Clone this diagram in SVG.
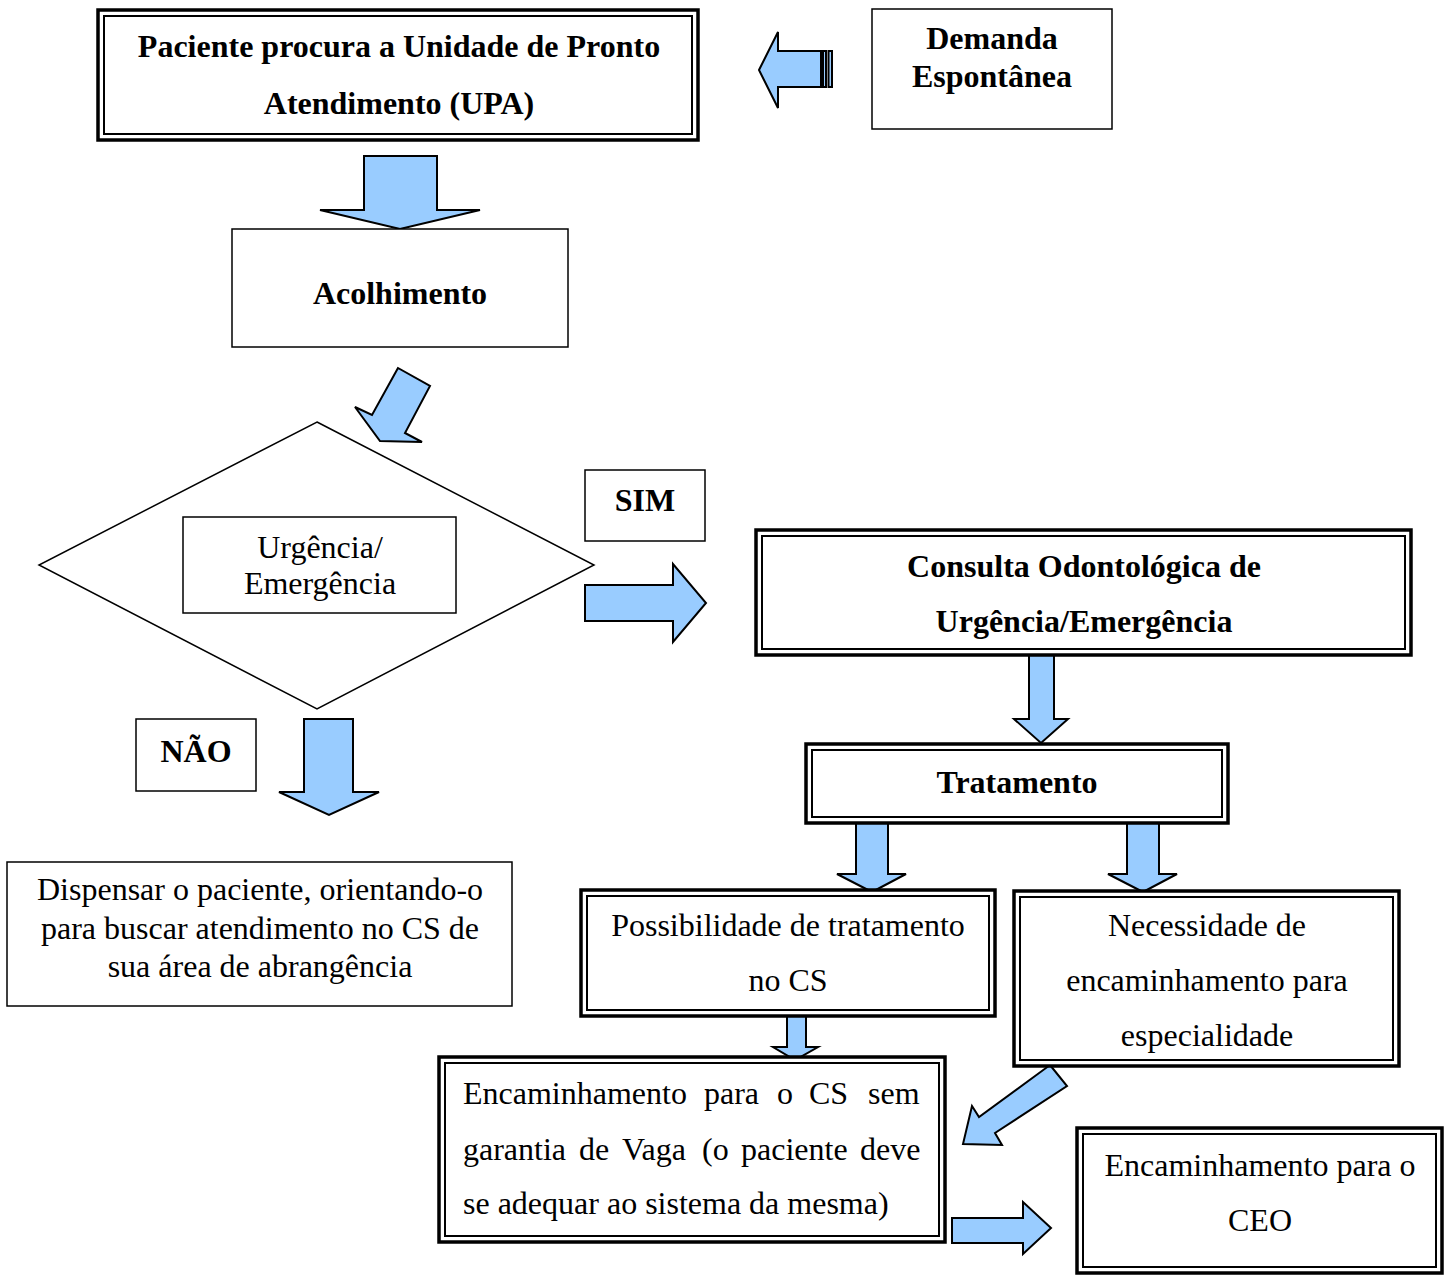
<svg xmlns="http://www.w3.org/2000/svg" width="1451" height="1275" viewBox="0 0 1451 1275">
<style>
  .t { font-family: "Liberation Serif", "Times New Roman", serif; font-size: 32px; fill: #000; text-anchor: middle; }
  .b { font-weight: bold; }
  .l { text-anchor: start; }
  .box { fill: #fff; stroke: #000; stroke-width: 1.5; }
  .dbo { fill: #fff; stroke: #000; stroke-width: 3.5; }
  .dbi { fill: none; stroke: #000; stroke-width: 2; }
  .arr { fill: #99CCFF; stroke: #000; stroke-width: 2; stroke-linejoin: miter; }
</style>
<rect width="1451" height="1275" fill="#fff"/>

<g id="connectors">
  <polygon class="arr" points="759,70 778,32 778,51 821,51 821,87 778,87 778,108"/>
  <rect class="arr" x="823" y="51" width="3" height="36"/>
  <rect class="arr" x="828.5" y="51" width="3.5" height="36"/>
  <polygon class="arr" points="364,156 437,156 437,210 480,210 400,229 320,210 364,210"/>
  <polygon class="arr" points="398,368 372,415 355,407 380,441 422,442 405,433 430,386"/>
  <polygon class="arr" points="585,585 673,585 673,564 706,603 673,642 673,621 585,621"/>
  <polygon class="arr" points="304,719 353,719 353,792 379,792 329,815 279,792 304,792"/>
  <polygon class="arr" points="1029,653 1054,653 1054,719 1068,719 1041,743 1014,719 1029,719"/>
  <polygon class="arr" points="856,822 888,822 888,874 906,874 872,892 837,874 856,874"/>
  <polygon class="arr" points="1127,822 1159,822 1159,874 1177,874 1143,892 1108,874 1127,874"/>
  <polygon class="arr" points="787,1016 806,1016 806,1047 818,1047 795,1060 773,1047 787,1047"/>
  <polygon class="arr" points="1050,1065 1067,1086 995,1133 1002,1145 963,1144 972,1106 979,1117"/>
  <polygon class="arr" points="952,1218 1023,1218 1023,1202 1051,1228 1023,1254 1023,1243 952,1243"/>
</g>

<g id="n_upa">
  <rect class="dbo" x="98" y="10" width="600" height="130"/>
  <rect class="dbi" x="104" y="16" width="588" height="118"/>
  <text class="t b" x="399" y="57">Paciente procura a Unidade de Pronto</text>
  <text class="t b" x="399" y="114">Atendimento (UPA)</text>
</g>

<g id="n_demanda">
  <rect class="box" x="872" y="9" width="240" height="120"/>
  <text class="t b" x="992" y="49">Demanda</text>
  <text class="t b" x="992" y="87">Espontânea</text>
</g>

<g id="n_acolhimento">
  <rect class="box" x="232" y="229" width="336" height="118"/>
  <text class="t b" x="400" y="304">Acolhimento</text>
</g>

<g id="n_decisao">
  <polygon class="box" points="317,422 594,565 317,709 39,565"/>
  <rect class="box" x="183" y="517" width="273" height="96"/>
  <text class="t" x="320" y="558">Urgência/</text>
  <text class="t" x="320" y="594">Emergência</text>
</g>

<g id="n_sim">
  <rect class="box" x="585" y="470" width="120" height="71"/>
  <text class="t b" x="645" y="511">SIM</text>
</g>

<g id="n_nao">
  <rect class="box" x="136" y="719" width="120" height="72"/>
  <text class="t b" x="196" y="762">NÃO</text>
</g>

<g id="n_dispensar">
  <rect class="box" x="7" y="862" width="505" height="144"/>
  <text class="t" x="260" y="900">Dispensar o paciente, orientando-o</text>
  <text class="t" x="260" y="939">para buscar atendimento no CS de</text>
  <text class="t" x="260" y="977">sua área de abrangência</text>
</g>

<g id="n_consulta">
  <rect class="dbo" x="756" y="530" width="655" height="125"/>
  <rect class="dbi" x="762" y="536" width="643" height="113"/>
  <text class="t b" x="1084" y="577">Consulta Odontológica de</text>
  <text class="t b" x="1084" y="632">Urgência/Emergência</text>
</g>

<g id="n_tratamento">
  <rect class="dbo" x="806" y="744" width="422" height="79"/>
  <rect class="dbi" x="812" y="750" width="410" height="67"/>
  <text class="t b" x="1017" y="793">Tratamento</text>
</g>

<g id="n_possibilidade">
  <rect class="dbo" x="581" y="890" width="414" height="126"/>
  <rect class="dbi" x="587" y="896" width="402" height="114"/>
  <text class="t" x="788" y="936">Possibilidade de tratamento</text>
  <text class="t" x="788" y="991">no CS</text>
</g>

<g id="n_necessidade">
  <rect class="dbo" x="1014" y="891" width="385" height="175"/>
  <rect class="dbi" x="1020" y="897" width="373" height="163"/>
  <text class="t" x="1207" y="936">Necessidade de</text>
  <text class="t" x="1207" y="991">encaminhamento para</text>
  <text class="t" x="1207" y="1046">especialidade</text>
</g>

<g id="n_enc_cs">
  <rect class="dbo" x="439" y="1057" width="506" height="185"/>
  <rect class="dbi" x="445" y="1063" width="494" height="173"/>
  <text class="t l" y="1104"><tspan x="463">Encaminhamento</tspan><tspan x="704">para</tspan><tspan x="777">o</tspan><tspan x="809">CS</tspan><tspan x="868">sem</tspan></text>
  <text class="t l" y="1160"><tspan x="463">garantia</tspan><tspan x="579">de</tspan><tspan x="622">Vaga</tspan><tspan x="702">(o</tspan><tspan x="741">paciente</tspan><tspan x="860">deve</tspan></text>
  <text class="t l" x="463" y="1214">se adequar ao sistema da mesma)</text>
</g>

<g id="n_ceo">
  <rect class="dbo" x="1077" y="1128" width="365" height="145"/>
  <rect class="dbi" x="1083" y="1134" width="353" height="133"/>
  <text class="t" x="1260" y="1176">Encaminhamento para o</text>
  <text class="t" x="1260" y="1231">CEO</text>
</g>
</svg>
